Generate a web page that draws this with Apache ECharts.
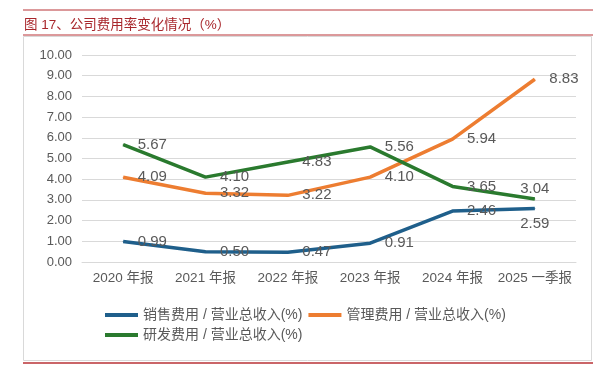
<!DOCTYPE html>
<html><head><meta charset="utf-8">
<script src="https://cdn.jsdelivr.net/npm/echarts@6/dist/echarts.min.js"></script>
<style>html,body{margin:0;padding:0;background:#fff}#c{width:616px;height:371px}</style>
</head><body><div id="c"></div>
<script>
const categories = ['2020 年报','2021 年报','2022 年报','2023 年报','2024 年报','2025 一季报'];
const salesRate = [0.99, 0.50, 0.47, 0.91, 2.46, 2.59];
const adminRate = [4.09, 3.32, 3.22, 4.10, 5.94, 8.83];
const rdRate = [5.67, 4.10, 4.83, 5.56, 3.65, 3.04];
const seriesNames = ['销售费用 / 营业总收入(%)','管理费用 / 营业总收入(%)','研发费用 / 营业总收入(%)'];
const yTicks = [0,1,2,3,4,5,6,7,8,9,10];

const chart = echarts.init(document.getElementById('c'));
const font = '"Liberation Sans","Noto Sans CJK SC",sans-serif';
// per-point label overrides (position only)
function withLabels(data, overrides){
  return data.map((v,i)=> overrides[i] ? {value:v, label:overrides[i]} : v);
}
function mk(name, data, color, overrides){
  return {name, type:'line', data:withLabels(data, overrides||{}), symbol:'circle', symbolSize:1, showSymbol:true, smooth:false,
    lineStyle:{color, width:3.5}, itemStyle:{color},
    labelLayout:{hideOverlap:false},
    label:{show:true, position:'right', distance:14, formatter:p=>Number(p.value).toFixed(2),
      color:'#595959', fontSize:15, fontFamily:font}};
}
chart.setOption({
  animation:false,
  title:{text:'图 17、公司费用率变化情况（%）', left:19, top:14,
    textStyle:{color:'#a8262b', fontSize:13.5, fontWeight:'normal', fontFamily:font}},
  graphic:[
    {type:'line', shape:{x1:23,y1:10,x2:593,y2:10}, style:{stroke:'#b83236', lineWidth:1}},
    {type:'line', shape:{x1:23,y1:35,x2:593,y2:35}, style:{stroke:'#b83236', lineWidth:1}},
    {type:'rect', shape:{x:23.5,y:36.5,width:568,height:324}, style:{fill:'none', stroke:'#d9d9d9', lineWidth:1}},
    {type:'line', shape:{x1:23,y1:363,x2:593,y2:363}, style:{stroke:'#b83236', lineWidth:1.5}}
  ],
  grid:{left:82, right:40, top:55, height:207},
  xAxis:{type:'category', data:categories, boundaryGap:true,
    axisLine:{show:true, lineStyle:{color:'#d9d9d9'}}, axisTick:{show:false},
    axisLabel:{color:'#595959', fontSize:13.5, fontFamily:font, margin:10, interval:0}},
  yAxis:{type:'value', min:yTicks[0], max:yTicks[yTicks.length-1], interval:1,
    axisLine:{show:false}, axisTick:{show:false},
    axisLabel:{color:'#595959', fontSize:13, fontFamily:font, margin:10, formatter:v=>v.toFixed(2)},
    splitLine:{lineStyle:{color:'#d9d9d9'}}},
  legend:{left:100, top:303, width:420, itemWidth:33, itemHeight:4, itemGap:6,
    icon:'rect', data:seriesNames,
    textStyle:{color:'#595959', fontSize:14, fontFamily:font}},
  series:[
    mk(seriesNames[0], salesRate, '#1f5f8b', {5:{position:'bottom', distance:7, offset:[7,0]}}),
    mk(seriesNames[1], adminRate, '#ed7d31'),
    mk(seriesNames[2], rdRate, '#2a7a2e', {5:{position:'top', distance:2, offset:[7,0]}})
  ]
});
</script></body></html>
